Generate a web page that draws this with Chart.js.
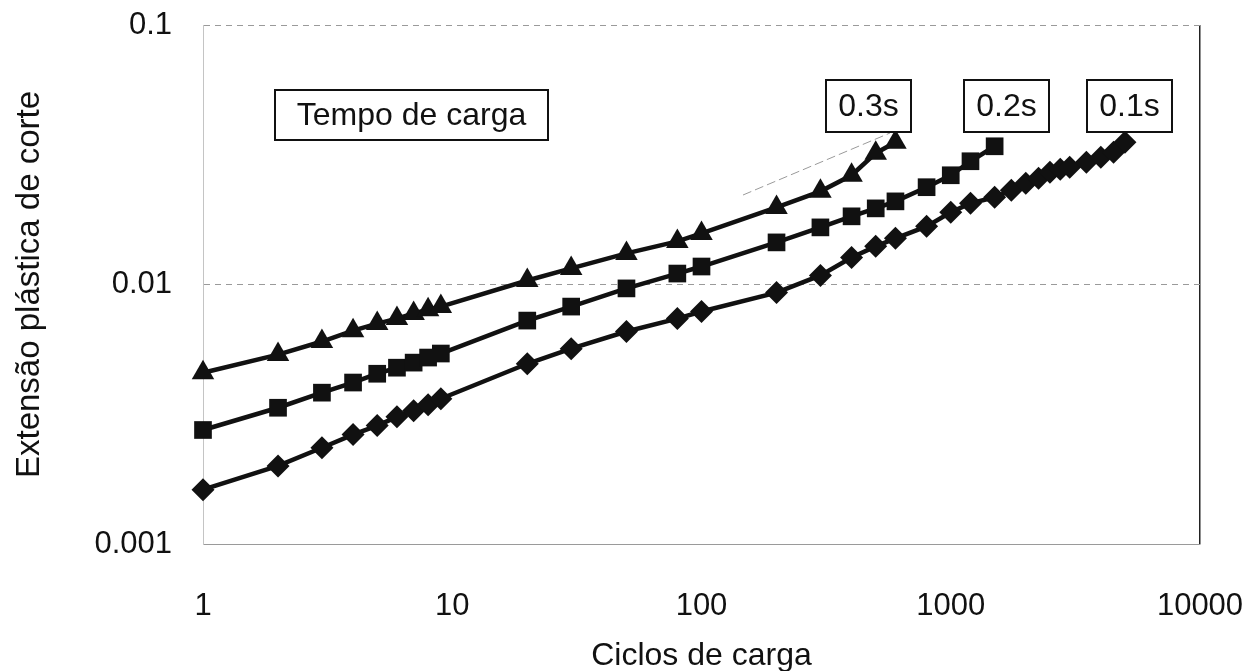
<!DOCTYPE html>
<html>
<head>
<meta charset="utf-8">
<script src="https://cdn.jsdelivr.net/npm/chart.js@4"></script>
<style>
  body { margin: 0; background: #fff; }
</style>
</head>
<body>
<canvas id="strain_chart" width="1251" height="671"></canvas>
<script>
// load cycles and plastic shear strain, one pair of arrays per loading time
const cycles03 = [1, 2, 3, 4, 5, 6, 7, 8, 9, 20, 30, 50, 80, 100, 200, 300, 400, 500, 600];
const strain03 = [0.00457, 0.00537, 0.00603, 0.00664, 0.00707, 0.00739, 0.00773, 0.00800, 0.00822,
                  0.01036, 0.01153, 0.01318, 0.01466, 0.01574, 0.01982, 0.02286, 0.02636, 0.03206, 0.03533];

const cycles02 = [1, 2, 3, 4, 5, 6, 7, 8, 9, 20, 30, 50, 80, 100, 200, 300, 400, 500, 600, 800, 1000, 1200, 1500];
const strain02 = [0.00275, 0.00335, 0.00383, 0.00419, 0.00453, 0.00478, 0.00500, 0.00523, 0.00542,
                  0.00726, 0.00822, 0.00966, 0.01102, 0.01173, 0.01453, 0.01660, 0.01831, 0.01965, 0.02091,
                  0.02371, 0.02636, 0.02985, 0.03409];

const cycles01 = [1, 2, 3, 4, 5, 6, 7, 8, 9, 20, 30, 50, 80, 100, 200, 300, 400, 500, 600, 800, 1000, 1200,
                  1500, 1750, 2000, 2250, 2500, 2750, 3000, 3500, 4000, 4500, 5000];
const strain01 = [0.00162, 0.00200, 0.00235, 0.00264, 0.00286, 0.00309, 0.00326, 0.00344, 0.00363,
                  0.00495, 0.00566, 0.00659, 0.00739, 0.00787, 0.00931, 0.01084, 0.01271, 0.01403, 0.01506,
                  0.01675, 0.01897, 0.02055, 0.02168, 0.02307, 0.02455, 0.02566, 0.02706, 0.02781, 0.02831,
                  0.02958, 0.03093, 0.03233, 0.03533];

const xTicks = [1, 10, 100, 1000, 10000];
const yTicks = [0.001, 0.01, 0.1];

const FONT = "'Liberation Sans', Arial, sans-serif";
const INK = '#111';

function toPoints(xs, ys) {
    return xs.map((x, i) => ({ x: x, y: ys[i] }));
}

function series(label, xs, ys, style, radius) {
    return {
        label: label,
        data: toPoints(xs, ys),
        borderColor: INK,
        backgroundColor: INK,
        borderWidth: 4.5,
        pointStyle: style,
        pointRadius: radius,
        pointHoverRadius: radius,
        pointBorderWidth: 0,
        tension: 0,
        clip: false
    };
}

// text boxes drawn on top of the plot
const boxes = [
    { text: 'Tempo de carga', left: 275, top: 90, width: 273, height: 50 },
    { text: '0.3s', left: 826, top: 80, width: 85, height: 52 },
    { text: '0.2s', left: 964, top: 80, width: 85, height: 52 },
    { text: '0.1s', left: 1087, top: 80, width: 85, height: 52 }
];

const boxPlugin = {
    id: 'boxPlugin',
    afterDatasetsDraw(chart) {
        const c = chart.ctx;
        c.save();
        // faint leader line next to the 0.3s curve
        c.strokeStyle = '#9a9a9a';
        c.lineWidth = 1;
        c.setLineDash([9, 4]);
        c.beginPath();
        c.moveTo(743, 195);
        c.lineTo(890, 133);
        c.stroke();
        c.setLineDash([]);

        c.font = '32px ' + FONT;
        c.textAlign = 'center';
        c.textBaseline = 'middle';
        boxes.forEach(b => {
            c.fillStyle = '#fff';
            c.fillRect(b.left, b.top, b.width, b.height);
            c.strokeStyle = INK;
            c.lineWidth = 2;
            c.strokeRect(b.left, b.top, b.width, b.height);
            c.fillStyle = INK;
            c.fillText(b.text, b.left + b.width / 2, b.top + b.height / 2 + 1);
        });
        c.restore();
    }
};

const ctx = document.getElementById('strain_chart');

new Chart(ctx, {
    type: 'line',
    data: {
        datasets: [
            series('0.3s', cycles03, strain03, 'triangle', 13),
            series('0.2s', cycles02, strain02, 'rect', 12.5),
            series('0.1s', cycles01, strain01, 'rectRot', 11.5)
        ]
    },
    options: {
        responsive: false,
        animation: false,
        layout: {
            padding: { top: 25, right: 51, bottom: 0, left: 0 }
        },
        plugins: {
            legend: { display: false },
            tooltip: { enabled: false }
        },
        scales: {
            x: {
                type: 'logarithmic',
                min: 1,
                max: 10000,
                afterBuildTicks: function(scale) {
                    scale.ticks = xTicks.map(v => ({ value: v }));
                },
                afterFit: function(scale) {
                    scale.height = 127;
                    scale.paddingLeft = 0;
                    scale.paddingRight = 0;
                },
                grid: {
                    drawTicks: false,
                    color: function(context) {
                        return context.tick && context.tick.value === 10000 ? '#222' : 'rgba(0,0,0,0)';
                    },
                    lineWidth: 1.5
                },
                border: { display: true, color: '#9a9a9a', width: 1 },
                ticks: {
                    color: INK,
                    padding: 44,
                    maxRotation: 0,
                    font: { family: FONT, size: 31 },
                    callback: function(value) {
                        return String(value);
                    }
                },
                title: {
                    display: true,
                    text: 'Ciclos de carga',
                    color: INK,
                    font: { family: FONT, size: 32 },
                    padding: { top: 0, bottom: -4 }
                }
            },
            y: {
                type: 'logarithmic',
                min: 0.001,
                max: 0.1,
                afterBuildTicks: function(scale) {
                    scale.ticks = yTicks.map(v => ({ value: v }));
                },
                afterFit: function(scale) {
                    scale.width = 203;
                    scale.paddingTop = 0;
                    scale.paddingBottom = 0;
                },
                grid: {
                    drawTicks: false,
                    color: '#9a9a9a',
                    lineWidth: 1
                },
                border: { display: true, color: '#c4c4c4', width: 1, dash: [6, 5] },
                ticks: {
                    color: INK,
                    padding: 31,
                    font: { family: FONT, size: 31 },
                    callback: function(value) {
                        return String(value);
                    }
                },
                title: {
                    display: true,
                    text: 'Extensão plástica de corte',
                    color: INK,
                    font: { family: FONT, size: 33 },
                    padding: { top: 10, bottom: 0 }
                }
            }
        }
    },
    plugins: [boxPlugin]
});
</script>
</body>
</html>
